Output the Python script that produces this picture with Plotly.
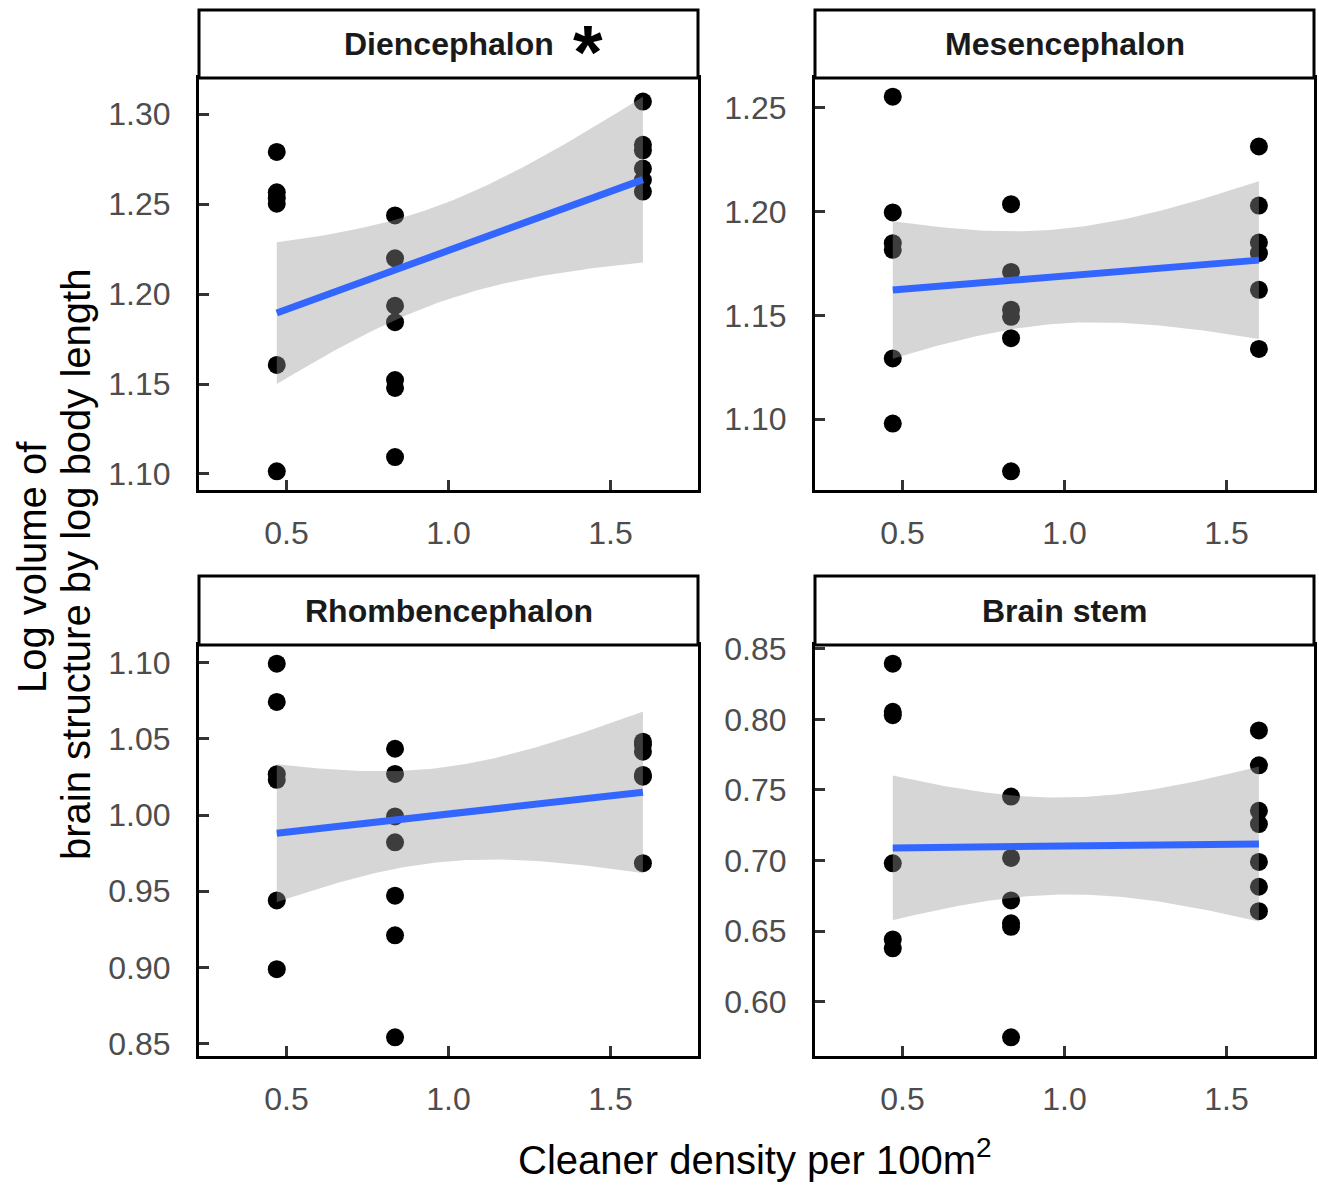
import math
import numpy as np
import plotly.graph_objects as go

W, H = 1319, 1185

# Cleaner density per 100 m² at the three sampling sites
density = [0.47, 0.835, 1.60]

# Log volume of brain structure by log body length, grouped by site (low, mid, high density)
dien_low = [1.279, 1.2566, 1.2533, 1.2502, 1.1606, 1.1015]
dien_mid = [1.2437, 1.2199, 1.1935, 1.1844, 1.1522, 1.1478, 1.1094]
dien_high = [1.307, 1.283, 1.2799, 1.2698, 1.2634, 1.2570]

mes_low = [1.2554, 1.1996, 1.1848, 1.1816, 1.1292, 1.0978]
mes_mid = [1.2036, 1.1709, 1.1527, 1.1493, 1.1390, 1.0748]
mes_high = [1.2314, 1.2029, 1.1851, 1.1800, 1.1623, 1.1338]

rhomb_low = [1.0993, 1.0742, 1.0268, 1.0231, 0.9440, 0.8989]
rhomb_mid = [1.0435, 1.0270, 0.9991, 0.9821, 0.9471, 0.9211, 0.8542]
rhomb_high = [1.0481, 1.0459, 1.0416, 1.0263, 1.0252, 0.9684]

stem_low = [0.8395, 0.8054, 0.8030, 0.6980, 0.6441, 0.6378]
stem_mid = [0.7453, 0.7018, 0.6717, 0.6555, 0.6530, 0.5747]
stem_high = [0.7922, 0.7675, 0.7352, 0.7258, 0.6990, 0.6814, 0.6641]

structures = ["Diencephalon", "Mesencephalon", "Rhombencephalon", "Brain stem"]
groups = [
    [dien_low, dien_mid, dien_high],
    [mes_low, mes_mid, mes_high],
    [rhomb_low, rhomb_mid, rhomb_high],
    [stem_low, stem_mid, stem_high],
]

x_ticks = [0.5, 1.0, 1.5]
x_limits = [0.3, 1.7]

# panel geometry in pixels
col_px = [(199, 698), (815, 1314)]
row_px = [(78, 490), (645, 1056)]
strip_px = [(10, 78), (576, 645)]

FONT = "Liberation Sans, Arial, Helvetica, sans-serif"


def t_crit(level, df):
    """Two-sided Student t critical value by bisection on the integrated density."""
    c = math.exp(math.lgamma((df + 1) / 2) - math.lgamma(df / 2)) / math.sqrt(df * math.pi)
    target = level / 2

    def half_cdf(q):
        xs = np.linspace(0.0, q, 4001)
        return np.trapezoid(c * (1 + xs ** 2 / df) ** (-(df + 1) / 2), xs)

    lo, hi = 0.0, 30.0
    for _ in range(60):
        mid = (lo + hi) / 2
        if half_cdf(mid) < target:
            lo = mid
        else:
            hi = mid
    return (lo + hi) / 2


def lm_band(x, y, grid):
    n = len(x)
    xbar, ybar = x.mean(), y.mean()
    sxx = ((x - xbar) ** 2).sum()
    slope = ((x - xbar) * (y - ybar)).sum() / sxx
    icpt = ybar - slope * xbar
    resid = y - (icpt + slope * x)
    s = math.sqrt((resid ** 2).sum() / (n - 2))
    fit = icpt + slope * grid
    se = s * np.sqrt(1 / n + (grid - xbar) ** 2 / sxx)
    t = t_crit(0.95, n - 2)
    return fit, fit - t * se, fit + t * se


def px_x(p):
    return p / W


def px_y(p):
    return 1 - p / H


fig = go.Figure()
annotations = []
shapes = []
layout_axes = {}

xpad = 0.05 * (x_limits[1] - x_limits[0])
x_range = [x_limits[0] - xpad, x_limits[1] + xpad]

for i, (name, grp) in enumerate(zip(structures, groups)):
    r, c = divmod(i, 2)
    ax = "" if i == 0 else str(i + 1)
    xs = np.concatenate([[density[k]] * len(g) for k, g in enumerate(grp)])
    ys = np.concatenate([np.asarray(g, float) for g in grp])

    grid = np.linspace(xs.min(), xs.max(), 80)
    fit, lo, hi = lm_band(xs, ys, grid)

    ymin = min(ys.min(), lo.min())
    ymax = max(ys.max(), hi.max())
    ypad = 0.05 * (ymax - ymin)
    y_range = [ymin - ypad, ymax + ypad]

    fig.add_trace(go.Scatter(
        x=xs, y=ys, mode="markers", xaxis="x" + ax, yaxis="y" + ax,
        marker=dict(color="black", size=18, line=dict(width=0)),
        showlegend=False, hoverinfo="x+y"))
    fig.add_trace(go.Scatter(
        x=np.concatenate([grid, grid[::-1]]), y=np.concatenate([hi, lo[::-1]]),
        mode="lines", fill="toself", fillcolor="rgba(153,153,153,0.4)",
        line=dict(width=0), xaxis="x" + ax, yaxis="y" + ax,
        showlegend=False, hoverinfo="skip"))
    fig.add_trace(go.Scatter(
        x=grid, y=fit, mode="lines", line=dict(color="#3366FF", width=7),
        xaxis="x" + ax, yaxis="y" + ax, showlegend=False, hoverinfo="skip"))

    x0, x1 = col_px[c]
    y0, y1 = row_px[r]
    common = dict(
        showline=True, mirror=True, linecolor="black", linewidth=3,
        ticks="inside", ticklen=10, tickwidth=3, tickcolor="#333333",
        showgrid=False, zeroline=False, automargin=False,
        tickfont=dict(family=FONT, size=32, color="#4d4d4d"),
    )
    layout_axes["xaxis" + ax] = dict(
        domain=[px_x(x0), px_x(x1)], range=x_range, anchor="y" + ax,
        tickvals=x_ticks, ticktext=[f"{v:.1f}" for v in x_ticks],
        ticklabelstandoff=13, **common)
    layout_axes["yaxis" + ax] = dict(
        domain=[px_y(y1), px_y(y0)], range=y_range, anchor="x" + ax,
        dtick=0.05, tick0=0, tickformat=".2f",
        ticklabelstandoff=19, **common)

    s0, s1 = strip_px[r]
    shapes.append(dict(
        type="rect", xref="paper", yref="paper",
        x0=px_x(x0), x1=px_x(x1), y0=px_y(s1), y1=px_y(s0),
        fillcolor="white", line=dict(color="black", width=3), layer="above"))
    annotations.append(dict(
        text=f"<b>{name}</b>", xref="paper", yref="paper",
        x=px_x((x0 + x1) / 2), y=px_y((s0 + s1) / 2),
        xanchor="center", yanchor="middle", showarrow=False,
        font=dict(family=FONT, size=32, color="#1a1a1a")))

# significance marker on the Diencephalon strip
annotations.append(dict(
    text="<b>*</b>", xref="paper", yref="paper", x=px_x(588), y=px_y(52),
    xanchor="center", yanchor="middle", showarrow=False,
    font=dict(family=FONT, size=76, color="black")))

annotations.append(dict(
    text="Cleaner density per 100m<sup>2</sup>", xref="paper", yref="paper",
    x=px_x(755), y=px_y(1157), xanchor="center", yanchor="middle",
    showarrow=False, font=dict(family=FONT, size=40, color="black")))
annotations.append(dict(
    text="Log volume of", xref="paper", yref="paper",
    x=px_x(32), y=px_y(567), xanchor="center", yanchor="middle",
    textangle=-90, showarrow=False, font=dict(family=FONT, size=40, color="black")))
annotations.append(dict(
    text="brain structure by log body length", xref="paper", yref="paper",
    x=px_x(76), y=px_y(565), xanchor="center", yanchor="middle",
    textangle=-90, showarrow=False, font=dict(family=FONT, size=40, color="black")))

fig.update_layout(
    width=W, height=H, margin=dict(l=0, r=0, t=0, b=0, autoexpand=False),
    paper_bgcolor="white", plot_bgcolor="white", showlegend=False,
    annotations=annotations, shapes=shapes, **layout_axes)

fig.write_html("out.html")
